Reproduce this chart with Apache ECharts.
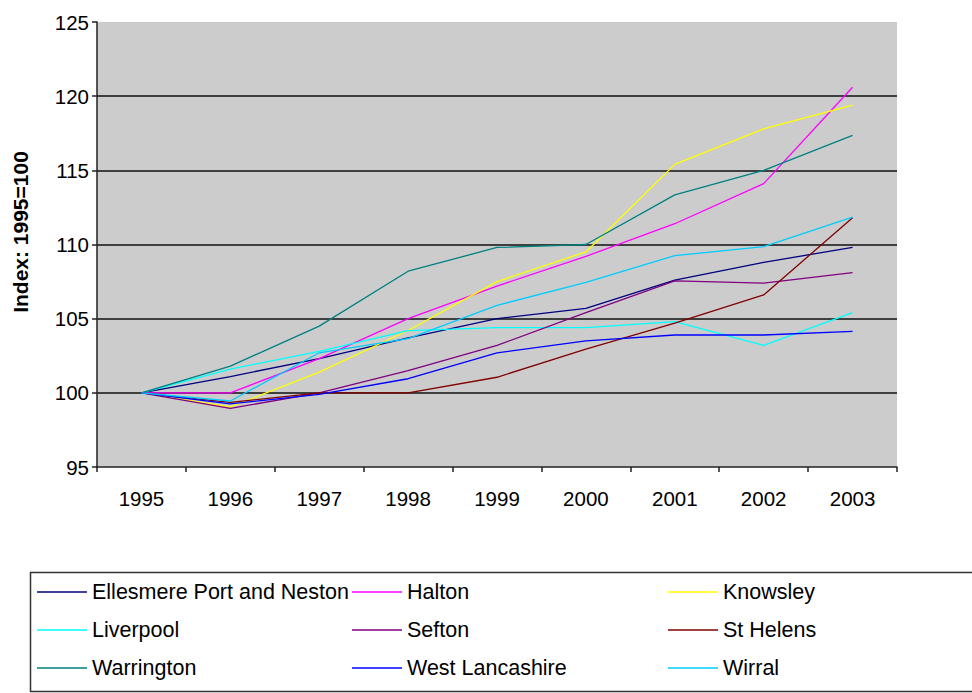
<!DOCTYPE html>
<html>
<head>
<meta charset="utf-8">
<script src="https://cdn.jsdelivr.net/npm/echarts@6/dist/echarts.min.js"></script>
<style>
  html, body { margin: 0; padding: 0; background: #fff; }
  #chart { width: 972px; height: 693px; }
</style>
</head>
<body>
<div id="chart"></div>
<script>
// Index of values by district, 1995 = 100
const years = ['1995', '1996', '1997', '1998', '1999', '2000', '2001', '2002', '2003'];

const ellesmerePortAndNeston = [100, 101.1, 102.3, 103.7, 105.0, 105.7, 107.6, 108.8, 109.8];
const halton                 = [100, 100.0, 102.3, 105.0, 107.2, 109.2, 111.4, 114.1, 120.6];
const knowsley               = [100, 99.05, 101.4, 104.2, 107.5, 109.5, 115.4, 117.8, 119.4];
const liverpool              = [100, 101.6, 102.8, 104.2, 104.4, 104.4, 104.8, 103.2, 105.4];
const sefton                 = [100, 98.95, 100.0, 101.5, 103.2, 105.4, 107.55, 107.4, 108.1];
const stHelens               = [100, 99.35, 100.0, 100.0, 101.05, 102.95, 104.7, 106.6, 111.8];
const warrington             = [100, 101.8, 104.5, 108.2, 109.8, 110.0, 113.35, 115.0, 117.35];
const westLancashire         = [100, 99.25, 99.9, 100.95, 102.7, 103.5, 103.9, 103.9, 104.15];
const wirral                 = [100, 99.45, 102.7, 103.65, 105.9, 107.45, 109.25, 109.85, 111.85];

const seriesDefs = [
  { name: 'Ellesmere Port and Neston', data: ellesmerePortAndNeston, color: '#000080' },
  { name: 'Halton',                    data: halton,                 color: '#FF00FF' },
  { name: 'Knowsley',                  data: knowsley,               color: '#FFFF00' },
  { name: 'Liverpool',                 data: liverpool,              color: '#00FFFF' },
  { name: 'Sefton',                    data: sefton,                 color: '#800080' },
  { name: 'St Helens',                 data: stHelens,               color: '#800000' },
  { name: 'Warrington',                data: warrington,             color: '#008080' },
  { name: 'West Lancashire',           data: westLancashire,         color: '#0000FF' },
  { name: 'Wirral',                    data: wirral,                 color: '#00CCFF' }
];

const FONT = '"Liberation Sans", Arial, sans-serif';

// Legend laid out as three columns, filled row by row
const legendColumns = [
  { left: 37,  names: ['Ellesmere Port and Neston', 'Liverpool', 'Warrington'] },
  { left: 352, names: ['Halton', 'Sefton', 'West Lancashire'] },
  { left: 668, names: ['Knowsley', 'St Helens', 'Wirral'] }
];

const chart = echarts.init(document.getElementById('chart'), null, { renderer: 'svg' });

chart.setOption({
  animation: false,
  backgroundColor: '#ffffff',
  grid: {
    left: 97, right: 75, top: 22, bottom: 226,
    show: true, backgroundColor: '#CCCCCC', borderWidth: 0
  },
  xAxis: {
    type: 'category',
    data: years,
    boundaryGap: true,
    axisLine: { show: true, lineStyle: { color: '#222', width: 1.5 } },
    axisTick: { show: true, length: 5, lineStyle: { color: '#222', width: 1.5 } },
    axisLabel: { color: '#000', fontFamily: FONT, fontSize: 20.5, margin: 21 },
    splitLine: { show: false }
  },
  yAxis: {
    type: 'value',
    min: 95, max: 125, interval: 5,
    axisLine: { show: true, lineStyle: { color: '#222', width: 1.5 } },
    axisTick: { show: true, length: 5, lineStyle: { color: '#222', width: 1.5 } },
    axisLabel: { color: '#000', fontFamily: FONT, fontSize: 20.5, margin: 8 },
    splitLine: { show: true, showMinLine: false, showMaxLine: false,
                 lineStyle: { color: '#111', width: 1.5 } }
  },
  legend: legendColumns.map(col => ({
    orient: 'vertical',
    left: col.left, top: 581,
    padding: 0,
    icon: 'rect',
    itemWidth: 50, itemHeight: 1.5, itemGap: 16,
    selectedMode: false,
    data: col.names,
    textStyle: { color: '#000', fontFamily: FONT, fontSize: 21.5, lineHeight: 22 }
  })),
  graphic: [
    {
      type: 'rect',
      shape: { x: 30.5, y: 572.5, width: 960, height: 119 },
      style: { fill: 'none', stroke: '#333', lineWidth: 1.5 },
      silent: true, z: -1
    },
    {
      type: 'text',
      x: 20, y: 232, rotation: Math.PI / 2,
      style: {
        text: 'Index: 1995=100', fill: '#000',
        font: 'bold 21px ' + FONT,
        textAlign: 'center', textVerticalAlign: 'middle'
      }
    }
  ],
  series: seriesDefs.map(s => ({
    name: s.name,
    type: 'line',
    data: s.data,
    symbol: 'none',
    showSymbol: false,
    smooth: false,
    color: s.color,
    lineStyle: { color: s.color, width: 1.3 },
    emphasis: { disabled: true }
  }))
});
</script>
</body>
</html>
